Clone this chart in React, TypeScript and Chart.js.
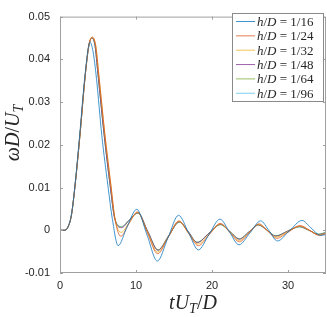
import React, { useEffect, useRef } from 'react';
import { Chart, registerables } from 'chart.js';

Chart.register(...registerables);

// ---------- data ----------
const resolutions = ['1/16', '1/24', '1/32', '1/48', '1/64', '1/96'];
const seriesColors = ['#0072BD', '#D95319', '#EDB120', '#7E2F8E', '#77AC30', '#4DBEEE'];

const xTickValues = [0, 10, 20, 30];
const xMin = 0;
const xMax = 35;
const yMin = -0.01;
const yMax = 0.05;
const yStep = 0.01;

const t16 = [0, 0.6, 1.0, 1.5, 2.0, 2.6, 3.3, 3.95, 4.35, 4.8, 5.5, 6.3, 6.9, 7.65, 8.8, 10.1, 11.45, 12.8, 14.2, 15.6, 16.9, 18.2, 19.6, 21.05, 22.3, 23.55, 25.0, 26.4, 27.5, 28.6, 30.2, 31.85, 33.0, 34.3, 35.0];
const v16 = [0, 0, 0.0006, 0.0036, 0.0110, 0.0225, 0.0365, 0.0440, 0.0418, 0.0355, 0.0222, 0.0105, 0.0025, -0.0036, 0.0007, 0.0049, -0.0011, -0.0072, -0.0018, 0.0035, -0.0005, -0.0046, -0.0010, 0.0026, -0.0004, -0.0034, -0.0006, 0.0022, -0.0001, -0.0025, -0.0001, 0.0023, 0.0006, -0.0012, -0.0010];

const t24 = [0, 0.6, 1.0, 1.5, 2.0, 2.6, 3.3, 3.8, 4.25, 4.7, 5.1, 5.9, 6.7, 7.25, 8.0, 9.05, 10.2, 11.5, 12.85, 14.25, 15.65, 16.9, 18.2, 19.65, 21.1, 22.35, 23.6, 24.9, 26.2, 27.35, 28.5, 30.05, 31.6, 32.85, 34.1, 35.0];
const v24 = [0, 0, 0.0006, 0.0035, 0.0108, 0.0218, 0.0359, 0.0434, 0.0452, 0.0432, 0.0365, 0.0225, 0.0105, 0.0025, -0.0014, 0.0015, 0.0043, -0.0006, -0.0055, -0.0016, 0.0022, -0.0007, -0.0036, -0.0010, 0.0016, -0.0005, -0.0027, -0.0006, 0.0015, -0.0002, -0.0019, -0.0004, 0.0011, 0.0000, -0.0012, -0.0008];

const t32 = [0, 0.6, 1.0, 1.5, 2.0, 2.6, 3.3, 3.8, 4.25, 4.7, 5.1, 5.9, 6.7, 7.25, 8.05, 9.1, 10.2, 11.5, 12.85, 14.25, 15.65, 16.9, 18.15, 19.65, 21.1, 22.35, 23.6, 24.9, 26.15, 27.3, 28.45, 30.0, 31.55, 32.8, 34.05, 35.0];
const v32 = [0, 0, 0.0006, 0.0035, 0.0108, 0.0218, 0.0359, 0.0433, 0.0451, 0.0432, 0.0365, 0.0225, 0.0105, 0.0026, -0.0005, 0.0018, 0.0042, -0.0004, -0.0051, -0.0015, 0.0021, -0.0006, -0.0032, -0.0008, 0.0015, -0.0004, -0.0024, -0.0005, 0.0014, -0.0001, -0.0016, -0.0003, 0.0010, 0.0000, -0.0011, -0.0007];

const t48 = [0, 0.6, 1.0, 1.5, 2.0, 2.6, 3.3, 3.8, 4.2, 4.6, 5.0, 5.8, 6.6, 7.2, 8.1, 9.1, 10.25, 11.55, 12.9, 14.3, 15.7, 16.9, 18.05, 19.6, 21.1, 22.35, 23.6, 24.85, 26.1, 27.25, 28.4, 29.95, 31.5, 32.75, 34.0, 35.0];
const v48 = [0, 0, 0.0006, 0.0035, 0.0108, 0.0218, 0.0359, 0.0432, 0.0450, 0.0433, 0.0365, 0.0225, 0.0105, 0.0027, 0.0006, 0.0023, 0.0041, -0.0003, -0.0047, -0.0013, 0.0020, -0.0004, -0.0029, -0.0007, 0.0014, -0.0003, -0.0021, -0.0004, 0.0013, 0.0000, -0.0014, -0.0002, 0.0009, 0.0000, -0.0010, -0.0006];

const t64 = [0, 0.6, 1.0, 1.5, 2.0, 2.6, 3.3, 3.8, 4.2, 4.6, 5.0, 5.8, 6.6, 7.2, 8.1, 9.1, 10.25, 11.55, 12.9, 14.3, 15.7, 16.9, 18.05, 19.6, 21.1, 22.35, 23.6, 24.85, 26.1, 27.25, 28.4, 29.95, 31.5, 32.75, 34.0, 35.0];
const v64 = [0, 0, 0.0006, 0.0035, 0.0108, 0.0218, 0.0359, 0.0432, 0.0450, 0.0433, 0.0365, 0.0225, 0.0105, 0.0028, 0.0008, 0.0024, 0.0040, -0.0003, -0.0046, -0.0013, 0.0019, -0.0004, -0.0028, -0.0007, 0.0013, -0.0003, -0.0020, -0.0004, 0.0012, 0.0000, -0.0013, -0.0002, 0.0008, 0.0000, -0.0009, -0.0005];

const t96 = [0, 0.6, 1.0, 1.5, 2.0, 2.6, 3.3, 3.8, 4.2, 4.6, 5.0, 5.8, 6.6, 7.2, 8.1, 9.1, 10.25, 11.55, 12.9, 14.3, 15.7, 16.9, 18.05, 19.6, 21.1, 22.35, 23.6, 24.85, 26.1, 27.25, 28.4, 29.95, 31.5, 32.75, 34.0, 35.0];
const v96 = [0, 0, 0.0006, 0.0035, 0.0108, 0.0218, 0.0359, 0.0432, 0.0449, 0.0432, 0.0364, 0.0224, 0.0104, 0.0028, 0.0009, 0.0024, 0.0040, -0.0003, -0.0046, -0.0013, 0.0019, -0.0004, -0.0028, -0.0007, 0.0013, -0.0003, -0.0020, -0.0004, 0.0012, 0.0000, -0.0013, -0.0002, 0.0008, 0.0000, -0.0009, -0.0005];

const seriesT = [t16, t24, t32, t48, t64, t96];
const seriesV = [v16, v24, v32, v48, v64, v96];

// ---------- helpers ----------
type Piece = { s: string; it?: boolean; sub?: boolean; gl?: number; gr?: number };
const SERIF = '"Liberation Serif", "DejaVu Serif", serif';
const SANS = '"Liberation Sans", Arial, sans-serif';
const LINE_W = 0.75;

function drawPieces(ctx: CanvasRenderingContext2D, pieces: Piece[], x: number, y: number, size: number, align: 'center' | 'left') {
  const fonts = pieces.map((p) => `${p.it ? 'italic ' : ''}${p.sub ? size * 0.7 : size}px ${SERIF}`);
  const widths = pieces.map((p, i) => {
    ctx.font = fonts[i];
    return ctx.measureText(p.s).width + ((p.gl || 0) + (p.gr || 0)) * size;
  });
  const total = widths.reduce((a, b) => a + b, 0);
  let cx = align === 'center' ? x - total / 2 : x;
  ctx.textAlign = 'left';
  ctx.textBaseline = 'alphabetic';
  pieces.forEach((p, i) => {
    ctx.font = fonts[i];
    ctx.fillText(p.s, cx + (p.gl || 0) * size, y + (p.sub ? size * 0.22 : 0));
    cx += widths[i];
  });
}

const framePlugin = {
  id: 'matlabFrame',
  afterDatasetsDraw(chart: any) {
    const { ctx, chartArea: a, scales } = chart;
    const xs = scales.x;
    const ys = scales.y;
    ctx.save();
    // axes box
    ctx.strokeStyle = '#a0a0a0';
    ctx.lineWidth = 1;
    ctx.strokeRect(a.left + 0.5, a.top + 0.5, a.right - a.left - 1, a.bottom - a.top - 1);
    // inward ticks
    ctx.beginPath();
    const tl = 3;
    for (const tk of xs.ticks) {
      const px = Math.round(xs.getPixelForValue(tk.value)) + 0.5;
      ctx.moveTo(px, a.bottom);
      ctx.lineTo(px, a.bottom - tl);
      ctx.moveTo(px, a.top);
      ctx.lineTo(px, a.top + tl);
    }
    for (const tk of ys.ticks) {
      const py = Math.round(ys.getPixelForValue(tk.value)) + 0.5;
      ctx.moveTo(a.left, py);
      ctx.lineTo(a.left + tl, py);
      ctx.moveTo(a.right, py);
      ctx.lineTo(a.right - tl, py);
    }
    ctx.stroke();

    // legend
    const lx = 232.5, ly = 13.5, lw = 91, lh = 88;
    ctx.fillStyle = '#ffffff';
    ctx.fillRect(lx, ly, lw, lh);
    ctx.strokeStyle = '#8a8a8a';
    ctx.lineWidth = 1;
    ctx.strokeRect(lx, ly, lw, lh);
    chart.data.datasets.forEach((ds: any, i: number) => {
      const cy = 21.5 + i * 14.35;
      ctx.strokeStyle = seriesColors[i];
      ctx.lineWidth = LINE_W;
      ctx.beginPath();
      ctx.moveTo(236, cy);
      ctx.lineTo(255, cy);
      ctx.stroke();
      ctx.fillStyle = '#262626';
      drawPieces(ctx, [
        { s: 'h', it: true },
        { s: '/' },
        { s: 'D', it: true },
        { s: '=', gl: 0.25, gr: 0.25 },
        { s: resolutions[i] },
      ], 257, cy + 4.5, 13, 'left');
    });

    // axis titles
    ctx.fillStyle = '#262626';
    drawPieces(ctx, [
      { s: 't', it: true },
      { s: 'U', it: true },
      { s: 'T', it: true, sub: true },
      { s: '/' },
      { s: 'D', it: true },
    ], (a.left + a.right) / 2, 309, 20, 'center');

    ctx.translate(19, 133);
    ctx.rotate(-Math.PI / 2);
    drawPieces(ctx, [
      { s: 'ω', it: true },
      { s: 'D', it: true },
      { s: '/' },
      { s: 'U', it: true },
      { s: 'T', it: true, sub: true },
    ], 0, 0, 20, 'center');
    ctx.restore();
  },
};

export default function App() {
  const canvasRef = useRef<HTMLCanvasElement | null>(null);

  useEffect(() => {
    document.body.style.margin = '0';
    const canvas = canvasRef.current;
    if (!canvas) return;
    const datasets = resolutions.map((r, i) => ({
      label: `h/D = ${r}`,
      data: seriesT[i].map((t, j) => ({ x: t, y: seriesV[i][j] })),
      borderColor: seriesColors[i],
      backgroundColor: seriesColors[i],
      borderWidth: LINE_W,
      pointRadius: 0,
      cubicInterpolationMode: 'monotone' as const,
      fill: false,
    }));
    const chart = new Chart(canvas, {
      type: 'line',
      data: { datasets },
      options: {
        animation: false,
        responsive: true,
        maintainAspectRatio: false,
        layout: { padding: { top: 7, right: 1, left: 0, bottom: 0 } },
        plugins: { legend: { display: false }, tooltip: { enabled: false } },
        scales: {
          x: {
            type: 'linear',
            min: xMin,
            max: xMax,
            grid: { display: false, drawTicks: false },
            border: { display: false },
            ticks: {
              stepSize: 10,
              padding: 6,
              color: '#262626',
              font: { family: SANS, size: 11 },
              maxRotation: 0,
            },
            afterBuildTicks: (s: any) => {
              s.ticks = xTickValues.map((v) => ({ value: v }));
            },
            afterFit: (s: any) => {
              s.height = 44;
            },
          },
          y: {
            type: 'linear',
            min: yMin,
            max: yMax,
            grid: { display: false, drawTicks: false },
            border: { display: false },
            ticks: {
              stepSize: yStep,
              padding: 10,
              color: '#262626',
              font: { family: SANS, size: 11 },
              callback: (v: any) => {
                const n = Number(v);
                if (Math.abs(n) < 1e-9) return '0';
                return n.toFixed(2);
              },
            },
            afterFit: (s: any) => {
              s.width = 60;
            },
          },
        },
      },
      plugins: [framePlugin],
    });
    return () => chart.destroy();
  }, []);

  return (
    <div style={{ position: 'fixed', left: 0, top: 0, width: 327, height: 317 }}>
      <canvas ref={canvasRef} />
    </div>
  );
}
